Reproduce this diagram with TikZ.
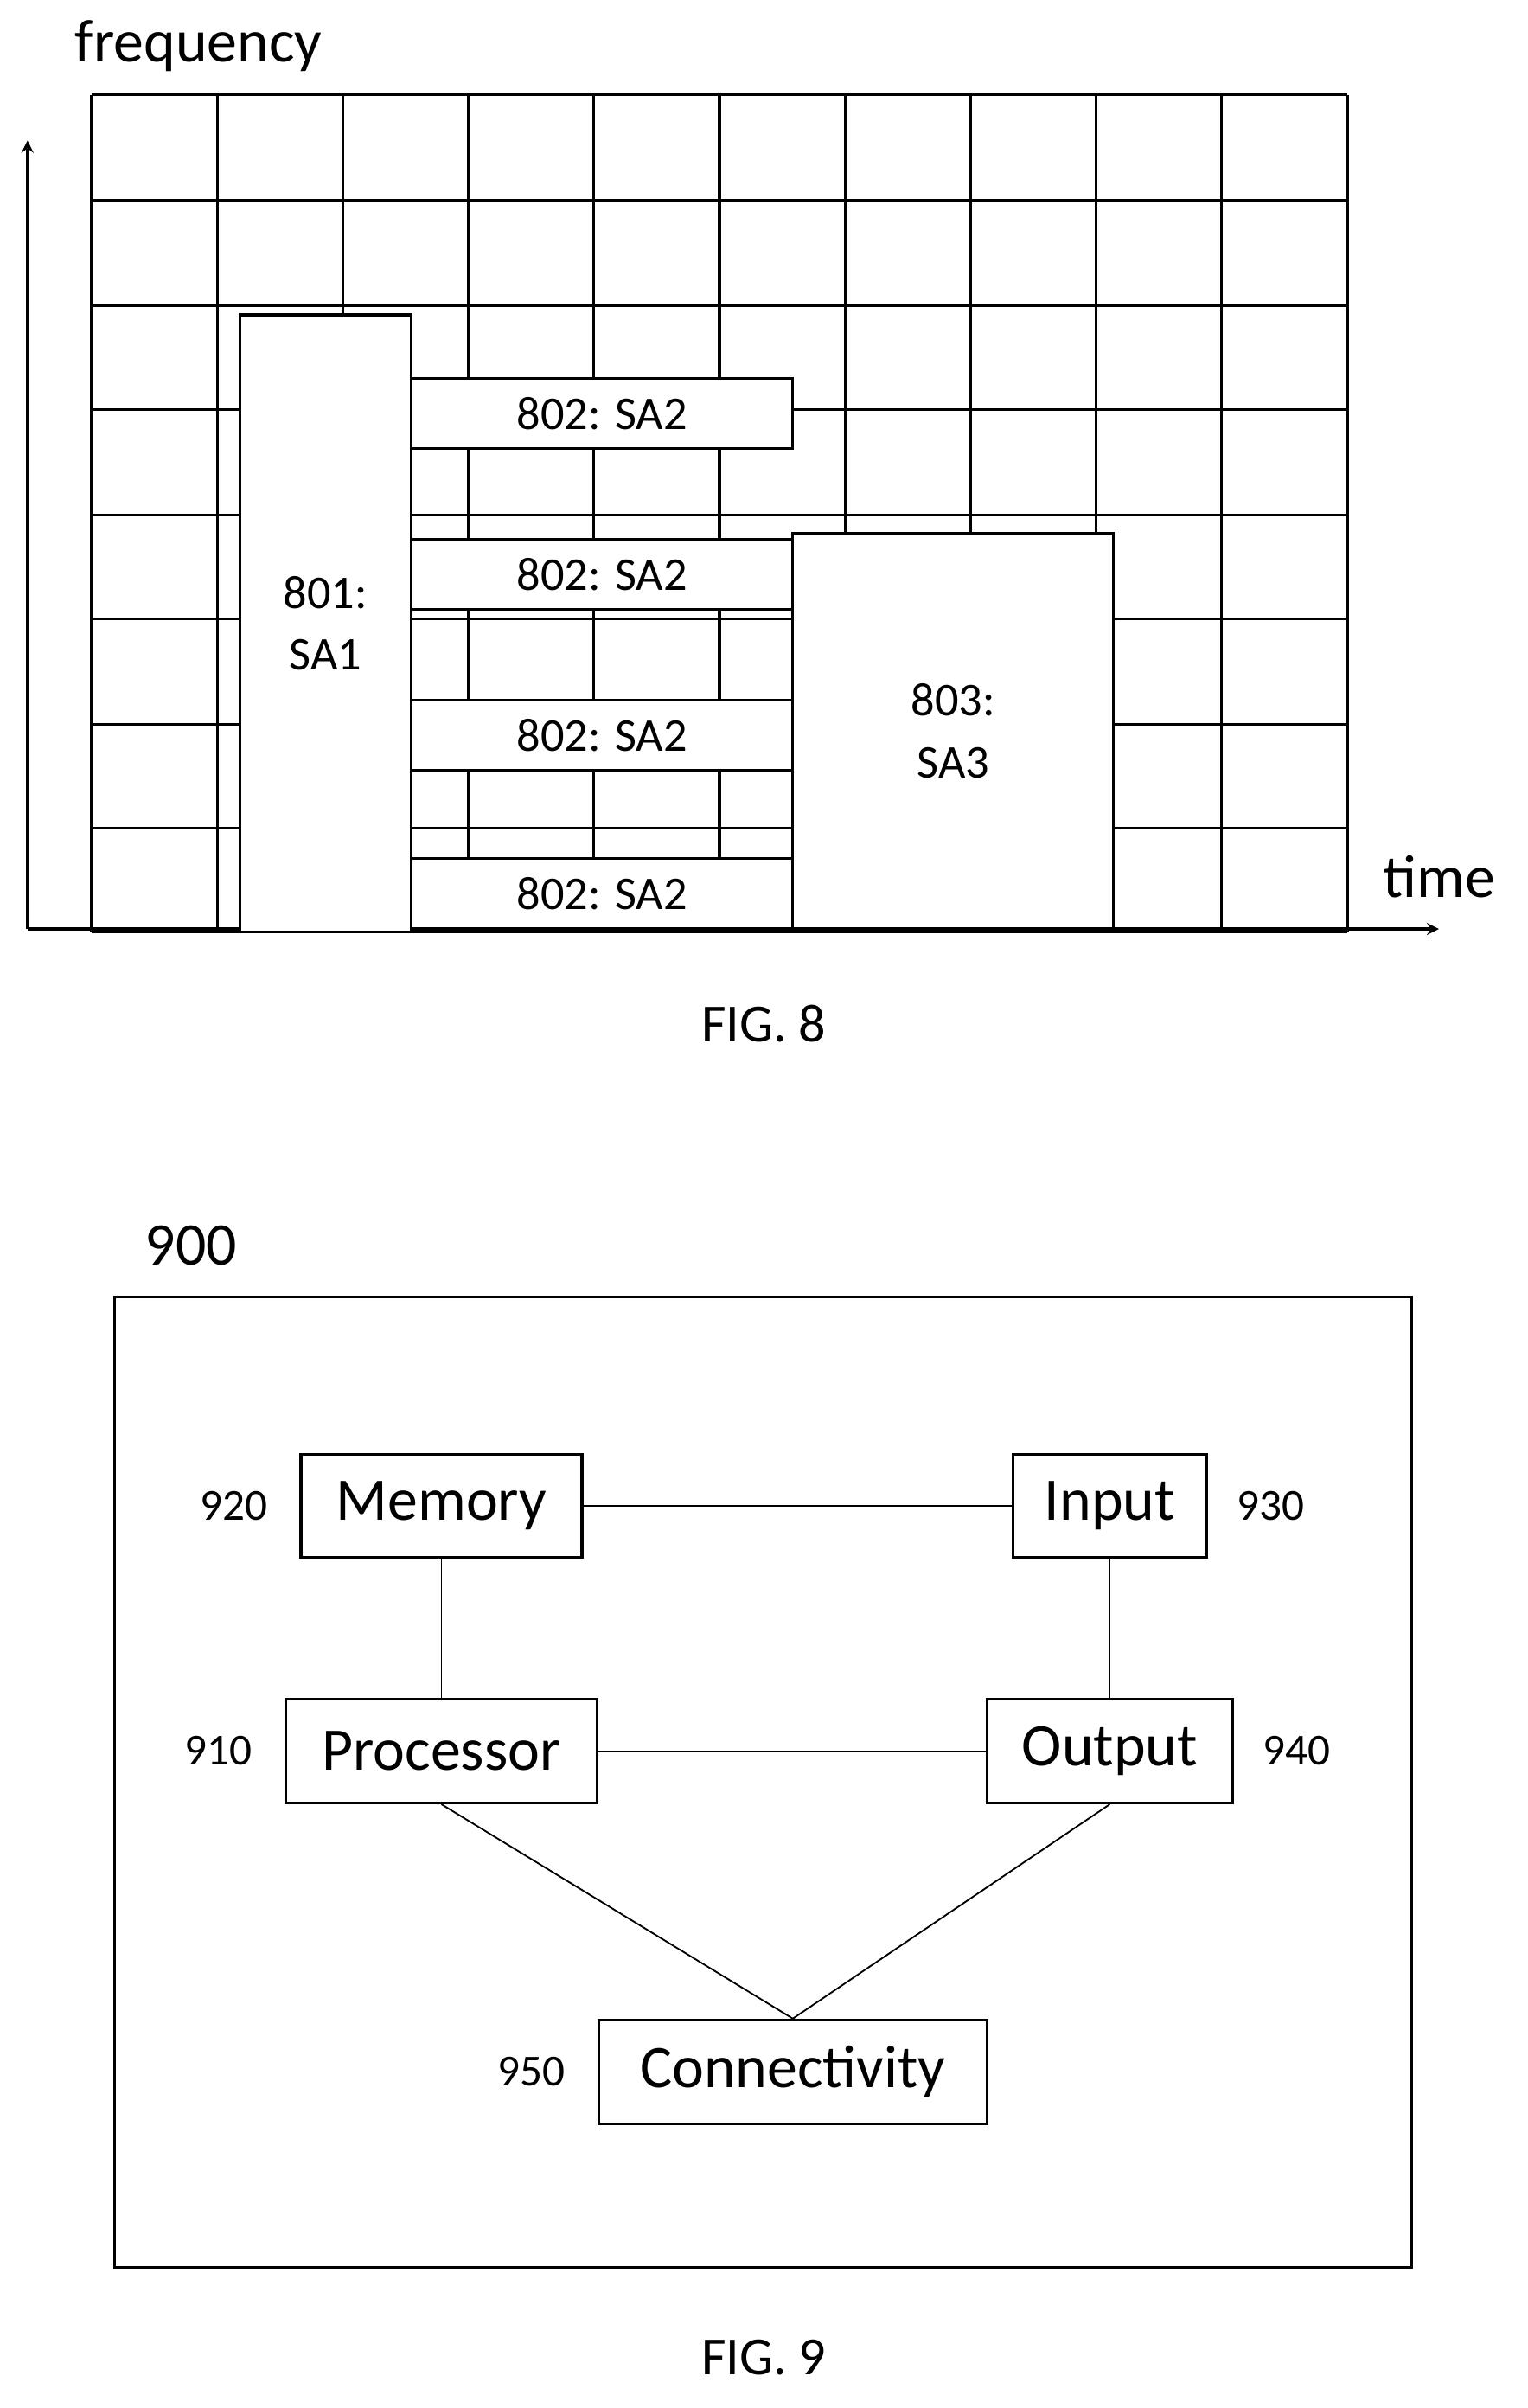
\documentclass[tikz,border=0pt]{standalone}
\usepackage{fontspec}
\setmainfont{Carlito}
\usetikzlibrary{positioning}
\tikzset{box/.style={draw,line width=1pt,fill=white,inner sep=0pt,font=\fontsize{22.5}{25}\selectfont},
sabox/.style={draw,line width=1pt,fill=white,inner sep=0pt,align=center,font=\fontsize{17.5}{23}\selectfont},
num/.style={font=\fontsize{16.5}{18}\selectfont},
arrow/.style={line width=1pt,->,>=stealth}}
\begin{document}
\begin{tikzpicture}[x=0.02cm,y=-0.02cm]
\useasboundingbox (0,0) rectangle (1000,1576);
				%Grid
				\foreach \i in {0,...,10} \draw[line width=1pt] (60+82.2*\i,62) -- (60+82.2*\i,610);
				\foreach \j in {62,131,200,268,337,405,474,542,610} \draw[line width=1pt] (60,\j) -- (882,\j);
				%Axes
				\coordinate (o) at (18,608);
				\coordinate (ftop) at (18,92);
				\coordinate (tend) at (942,608);
				\draw[arrow] (o) -- (ftop);
				\draw[arrow] (o) -- (tend);
				\node[font=\fontsize{22.5}{25}\selectfont] (freq) at (130,30) {frequency};
				\node[font=\fontsize{22.5}{25}\selectfont] (time) at (942,574) {time};
				%Nodes
				\node[sabox,minimum width=2.24cm,minimum height=8.08cm] (sa1) at (213,408) {801:\\SA1};
				\foreach \y/\n in {270.5/a,376/b,481/c,585/d}
				  \node[sabox,minimum width=5cm,minimum height=0.92cm] (sa2\n) at (394,\y) {802: SA2};
				\node[sabox,minimum width=4.2cm,minimum height=5.18cm] (sa3) at (624,478.5) {803:\\SA3};
				\node[font=\fontsize{20}{22}\selectfont] (fig8) at (500,670) {FIG. 8};

				%Fig 9
				\node[font=\fontsize{22.5}{25}\selectfont] (n900) at (125,815) {900};
				\node[draw,line width=1pt,minimum width=16.98cm,minimum height=12.7cm] (dev) at (499.5,1166.5) {};
				\node[box,minimum width=3.68cm,minimum height=1.34cm] (mem) at (289,985.5) {Memory};
				\node[box,minimum width=2.54cm,minimum height=1.34cm] (inp) at (726.5,985.5) {Input};
				\node[box,minimum width=4.08cm,minimum height=1.36cm] (proc) at (289,1146) {Processor};
				\node[box,minimum width=3.22cm,minimum height=1.36cm] (outp) at (726.5,1146) {Output};
				\node[box,minimum width=5.08cm,minimum height=1.36cm] (conn) at (519,1356) {Connectivity};
				\node[num,left=0.3cm of mem] (n920) {920};
				\node[num,right=0.25cm of inp] (n930) {930};
				\node[num,left=0.3cm of proc] (n910) {910};
				\node[num,right=0.25cm of outp] (n940) {940};
				\node[num,left=0.3cm of conn] (n950) {950};
				\node[font=\fontsize{20}{22}\selectfont] (fig9) at (500,1543) {FIG. 9};

				%Lines
				\draw[line width=0.6pt] (mem.east) -- (inp.west);
				\draw[line width=0.6pt] (mem.south) -- (proc.north);
				\draw[line width=0.6pt] (inp.south) -- (outp.north);
				\draw[line width=0.6pt] (proc.east) -- (outp.west);
				\draw[line width=0.6pt] (proc.south) -- (conn.north);
				\draw[line width=0.6pt] (outp.south) -- (conn.north);
\end{tikzpicture}
\end{document}
